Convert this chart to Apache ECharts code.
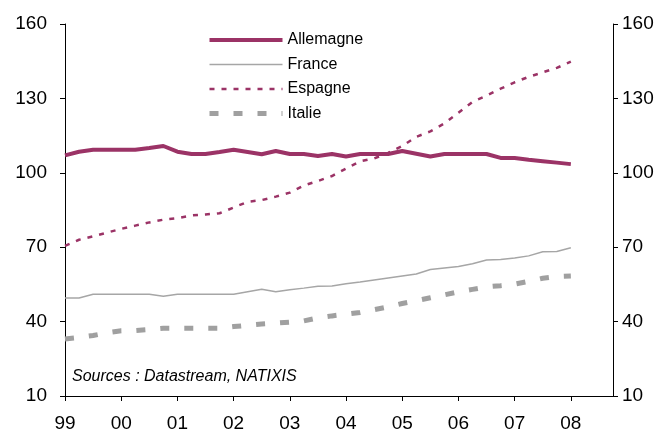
<!DOCTYPE html>
<html>
<head>
<meta charset="utf-8">
<script src="https://cdn.jsdelivr.net/npm/echarts@6/dist/echarts.min.js"></script>
<style>
  html, body { margin: 0; padding: 0; background: #fff; }
  #chart { width: 668px; height: 435px; }
</style>
</head>
<body>
<div id="chart"></div>
<script>
// trimestriel, 99T1 -> 08T1
const yearLabels = ['99', '00', '01', '02', '03', '04', '05', '06', '07', '08'];

const allemagne = [107, 108.5, 109.3, 109.3, 109.3, 109.3, 110, 110.8, 108.5, 107.6,
  107.6, 108.4, 109.3, 108.4, 107.5, 108.8, 107.6, 107.6, 106.8, 107.6,
  106.6, 107.6, 107.6, 107.6, 108.8, 107.7, 106.6, 107.6, 107.6, 107.6,
  107.6, 106, 106, 105.3, 104.7, 104.1, 103.5];

const france = [49.5, 49.5, 51, 51, 51, 51, 51, 50.2, 51, 51,
  51, 51, 51, 52, 53, 52, 52.8, 53.5, 54.3, 54.4,
  55.3, 56, 56.8, 57.6, 58.4, 59.2, 61, 61.6, 62.2, 63.3,
  64.8, 65, 65.6, 66.5, 68.2, 68.3, 69.8];

const espagne = [70.5, 73, 74.4, 75.9, 77.4, 78.7, 80, 81.1, 81.7, 82.8,
  83.2, 83.7, 86, 88.3, 89, 90.4, 92, 94.9, 96.7, 98.7,
  101.7, 104.6, 105.8, 108, 110.8, 114.5, 116.7, 119.9, 124.2, 128.6,
  131.1, 133.9, 136.5, 138.7, 140.5, 142.3, 144.8];

const italie = [33, 33.6, 34.4, 35.5, 36.3, 36.4, 36.8, 37.3, 37.3, 37.3,
  37.3, 37.3, 38, 38.5, 39, 39.4, 39.8, 40.3, 41.5, 42.3,
  43, 43.7, 44.8, 45.9, 47.3, 48.4, 49.6, 50.8, 52, 53,
  54, 54.5, 55.1, 56.2, 57.5, 58.2, 58.4];

const yTicks = { min: 10, max: 160, step: 30 };

const magenta = '#9b3366';
const gris = '#a6a6a6';
const font = '"Liberation Sans", Arial, sans-serif';

// 4 trimestres par annee, l'axe va jusqu'a 08T4
let categories = [];
yearLabels.forEach((y) => {
  for (let q = 0; q < 4; q++) {
    categories.push(q === 0 ? y : y + 'T' + (q + 1));
  }
});

const chart = echarts.init(document.getElementById('chart'));

let yAxisBase = {
  type: 'value',
  min: yTicks.min,
  max: yTicks.max,
  interval: yTicks.step,
  axisLine: { show: true, lineStyle: { color: '#000', width: 1 } },
  axisTick: { show: true, inside: false, length: 5, lineStyle: { color: '#000' } },
  splitLine: { show: false },
  axisLabel: { color: '#000', fontSize: 19, fontFamily: font }
};

// pas de symbole dans la legende, seulement le trait
const noSymbol = { opacity: 0, borderWidth: 0 };

let option = {
  animation: false,
  backgroundColor: '#fff',
  grid: { left: 65, right: 55, top: 24, bottom: 39, containLabel: false },
  legend: {
    orient: 'vertical',
    left: 202,
    top: 27,
    itemWidth: 73,
    itemHeight: 12,
    itemGap: 8.5,
    textStyle: { color: '#000', fontSize: 16, fontFamily: font },
    data: [
      { name: 'Allemagne', lineStyle: { width: 4 }, itemStyle: noSymbol },
      { name: 'France', lineStyle: { width: 1.5 }, itemStyle: noSymbol },
      { name: 'Espagne', lineStyle: { width: 2.5 }, itemStyle: noSymbol },
      { name: 'Italie', lineStyle: { width: 5 }, itemStyle: noSymbol }
    ]
  },
  xAxis: {
    type: 'category',
    data: categories,
    boundaryGap: false,
    axisLine: { show: true, lineStyle: { color: '#000', width: 1 } },
    axisTick: {
      show: true, length: 5, lineStyle: { color: '#000' },
      interval: (i) => i % 4 === 0
    },
    axisLabel: {
      color: '#000', fontSize: 19, fontFamily: font, margin: 18,
      interval: (i) => i % 4 === 0
    },
    splitLine: { show: false }
  },
  yAxis: [
    Object.assign({}, yAxisBase, { position: 'left', axisLabel: Object.assign({}, yAxisBase.axisLabel, { margin: 18 }) }),
    Object.assign({}, yAxisBase, { position: 'right', axisLabel: Object.assign({}, yAxisBase.axisLabel, { margin: 9 }) })
  ],
  series: [
    {
      name: 'Allemagne', type: 'line', data: allemagne, symbol: 'none', z: 5,
      lineStyle: { color: magenta, width: 4 }, itemStyle: { color: magenta }
    },
    {
      name: 'France', type: 'line', data: france, symbol: 'none',
      lineStyle: { color: gris, width: 1.5 }, itemStyle: { color: gris }
    },
    {
      name: 'Espagne', type: 'line', data: espagne, symbol: 'none',
      lineStyle: { color: magenta, width: 2.5, type: [5, 7] }, itemStyle: { color: magenta }
    },
    {
      name: 'Italie', type: 'line', data: italie, symbol: 'none',
      lineStyle: { color: '#a0a0a0', width: 5, type: [9, 15] }, itemStyle: { color: '#a0a0a0' }
    }
  ],
  graphic: [
    {
      type: 'text', left: 72, top: 369,
      style: {
        text: 'Sources : Datastream, NATIXIS',
        font: 'italic 16px ' + font,
        fill: '#000'
      }
    }
  ]
};

chart.setOption(option);
</script>
</body>
</html>
